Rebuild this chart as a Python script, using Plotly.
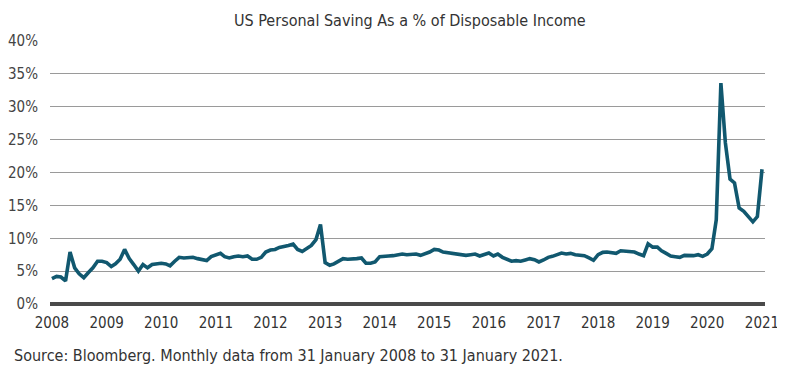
import pandas as pd
import plotly.graph_objects as go

# Monthly US personal saving rate (% of disposable income), Jan 2008 - Jan 2021
y2008 = [3.85, 4.2, 4.1, 3.5, 7.9, 5.5, 4.6, 4.0, 4.8, 5.5, 6.5, 6.5]
y2009 = [6.3, 5.7, 6.1, 6.8, 8.3, 6.9, 6.0, 5.0, 6.0, 5.5, 6.0, 6.1]
y2010 = [6.2, 6.1, 5.8, 6.5, 7.1, 7.0, 7.0, 7.1, 6.9, 6.8, 6.6, 7.2]
y2011 = [7.5, 7.7, 7.2, 7.0, 7.2, 7.3, 7.2, 7.3, 6.8, 6.8, 7.1, 7.9]
y2012 = [8.2, 8.3, 8.6, 8.7, 8.9, 9.1, 8.3, 8.0, 8.4, 8.9, 9.8, 12.1]
y2013 = [6.3, 5.9, 6.1, 6.5, 6.9, 6.8, 6.8, 6.9, 7.0, 6.2, 6.2, 6.4]
y2014 = [7.2, 7.2, 7.3, 7.35, 7.5, 7.6, 7.5, 7.6, 7.6, 7.4, 7.6, 7.9]
y2015 = [8.3, 8.2, 7.9, 7.8, 7.6, 7.5, 7.4, 7.4, 7.5, 7.6, 7.3, 7.5]
y2016 = [7.75, 7.3, 7.6, 7.1, 6.8, 6.5, 6.6, 6.5, 6.7, 6.9, 6.75, 6.4]
y2017 = [6.7, 7.1, 7.25, 7.5, 7.75, 7.6, 7.7, 7.5, 7.4, 7.35, 7.0, 6.65]
y2018 = [7.5, 7.85, 7.9, 7.75, 7.7, 8.1, 8.0, 7.9, 7.9, 7.6, 7.35, 9.15]
y2019 = [8.65, 8.65, 8.1, 7.7, 7.3, 7.2, 7.1, 7.4, 7.4, 7.35, 7.5, 7.25]
y2020 = [7.6, 8.4, 12.8, 33.6, 24.5, 19.0, 18.4, 14.6, 14.1, 13.4, 12.5, 13.3]
y2021 = [20.5]

saving_rate = (y2008 + y2009 + y2010 + y2011 + y2012 + y2013 + y2014 +
               y2015 + y2016 + y2017 + y2018 + y2019 + y2020 + y2021)
dates = pd.date_range("2008-01-01", periods=len(saving_rate), freq="MS")

y_ticks = [0, 5, 10, 15, 20, 25, 30, 35, 40]
y_tick_labels = ["0%", "5%", "10%", "15%", "20%", "25%", "30%", "35%", "40%"]
x_tick_years = [str(y) for y in range(2008, 2022)]

title_text = "US Personal Saving As a % of Disposable Income"
source_text = "Source: Bloomberg. Monthly data from 31 January 2008 to 31 January 2021."

FONT = "DejaVu Sans Condensed, sans-serif"

fig = go.Figure()
fig.add_trace(go.Scatter(
    x=dates, y=saving_rate, mode="lines",
    line=dict(color="#11586f", width=3.6),
    hoverinfo="skip", showlegend=False,
))

# page body has an 8px default margin, so the figure is sized to fit the window
fig.update_layout(
    width=777, height=366,
    margin=dict(l=42, r=20, t=33, b=70),
    paper_bgcolor="white", plot_bgcolor="white",
    font=dict(family=FONT, color="#3d3d3d"),
    showlegend=False,
    xaxis=dict(
        type="date", automargin=False,
        range=["2007-12-19", "2021-01-21"],
        tickvals=[f"{y}-01-01" for y in x_tick_years],
        ticktext=x_tick_years,
        showgrid=False, zeroline=False, showline=False,
        ticks="", ticklabelstandoff=8,
        tickfont=dict(size=15, color="#333333", family=FONT),
    ),
    yaxis=dict(
        range=[0, 40], automargin=False,
        tickvals=y_ticks, ticktext=y_tick_labels,
        showgrid=True, gridcolor="#9a9a9a", gridwidth=1,
        zeroline=True, zerolinecolor="#4a4a4a", zerolinewidth=4,
        showline=False, ticks="", ticklabelstandoff=11,
        tickfont=dict(size=15, color="#444444", family=FONT),
    ),
    annotations=[
        dict(text=title_text, xref="paper", yref="paper", x=0.503, y=1.0,
             xanchor="center", yanchor="bottom", yshift=9, showarrow=False,
             font=dict(size=16, color="#333333", family=FONT)),
        dict(text=source_text, xref="paper", yref="paper", x=0, y=0,
             xanchor="left", yanchor="middle", xshift=-38, yshift=-51,
             showarrow=False,
             font=dict(size=16, color="#333333", family=FONT)),
    ],
)

fig.write_html("out.html")
